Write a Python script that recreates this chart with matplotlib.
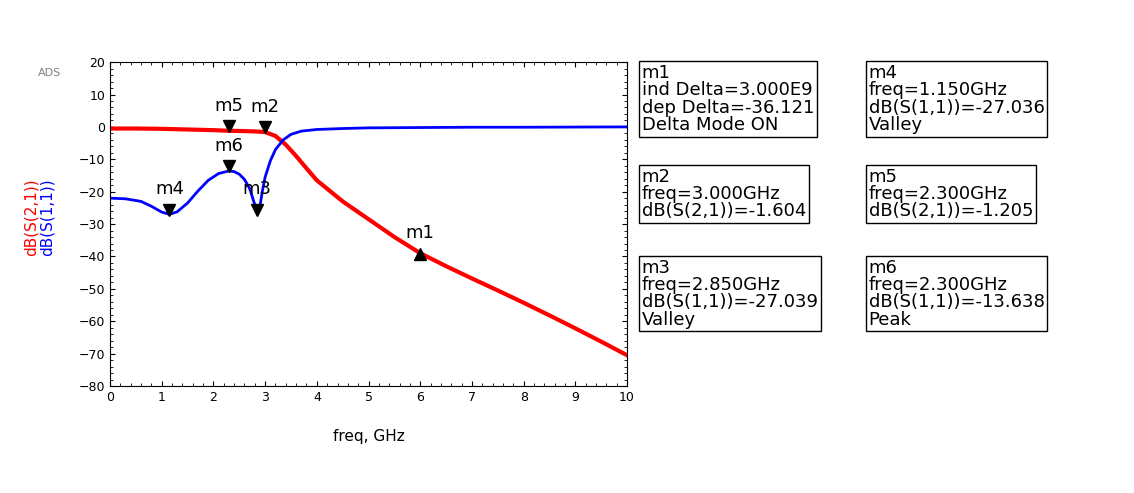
import numpy as np
import matplotlib.pyplot as plt
from matplotlib.ticker import MultipleLocator

# S21 (red)
f21 = [0, 0.5, 1, 1.5, 2, 2.3, 2.6, 2.8, 3.0, 3.2, 3.4, 3.6, 3.8, 4.0, 4.5, 5, 5.5, 6, 6.5, 7, 7.5, 8, 8.5, 9, 9.5, 10]
s21 = [-0.5, -0.5, -0.6, -0.8, -1.0, -1.2, -1.3, -1.4, -1.6, -2.8, -5.5, -9.0, -12.8, -16.5, -23.0, -28.5, -34.0, -39.0, -43.0, -46.8, -50.5, -54.3, -58.2, -62.2, -66.3, -70.5]
# S11 (blue)
f11 = [0, 0.3, 0.6, 0.8, 1.0, 1.15, 1.3, 1.5, 1.7, 1.9, 2.1, 2.3, 2.4, 2.5, 2.6, 2.7, 2.8, 2.85, 2.9, 2.95, 3.0, 3.1, 3.2, 3.35, 3.5, 3.7, 4.0, 4.5, 5, 6, 7, 8, 10]
s11 = [-22.0, -22.2, -23.0, -24.5, -26.3, -27.0, -26.2, -23.5, -19.8, -16.5, -14.4, -13.6, -13.8, -14.6, -16.2, -19.0, -24.0, -27.0, -24.5, -19.5, -15.5, -10.5, -7.0, -4.0, -2.3, -1.3, -0.8, -0.5, -0.3, -0.2, -0.1, -0.1, 0.0]

markers = [  # name, freq, value, up?
    ("m1", 6.0, -39.0, True),
    ("m2", 3.0, -1.604, False),
    ("m3", 2.85, -27.039, False),
    ("m4", 1.15, -27.036, False),
    ("m5", 2.3, -1.205, False),
    ("m6", 2.3, -13.638, False),
]
boxes = [
    (0.566, 0.87, "m1\nind Delta=3.000E9\ndep Delta=-36.121\nDelta Mode ON"),
    (0.566, 0.66, "m2\nfreq=3.000GHz\ndB(S(2,1))=-1.604"),
    (0.566, 0.475, "m3\nfreq=2.850GHz\ndB(S(1,1))=-27.039\nValley"),
    (0.766, 0.87, "m4\nfreq=1.150GHz\ndB(S(1,1))=-27.036\nValley"),
    (0.766, 0.66, "m5\nfreq=2.300GHz\ndB(S(2,1))=-1.205"),
    (0.766, 0.475, "m6\nfreq=2.300GHz\ndB(S(1,1))=-13.638\nPeak"),
]

fig = plt.figure(figsize=(11.34, 4.93), dpi=100)
ax = fig.add_axes([0.097, 0.217, 0.456, 0.657])
ax.plot(f21, s21, color="#ff0000", lw=3)
ax.plot(f11, s11, color="#0000ff", lw=2)
for name, fx, v, up in markers:
    ax.plot(fx, v + (-0.3 if up else 1.5), marker="^" if up else "v", color="black", ms=8, ls="none")
    dy = 3.5 if up else 5.0
    ax.text(fx, v + dy, name, fontsize=13, ha="center", va="bottom")
ax.set_xlim(0, 10)
ax.set_ylim(-80, 20)
ax.xaxis.set_major_locator(MultipleLocator(1))
ax.yaxis.set_major_locator(MultipleLocator(10))
ax.xaxis.set_minor_locator(MultipleLocator(0.2))
ax.yaxis.set_minor_locator(MultipleLocator(2))
ax.tick_params(which="both", direction="in", top=True, right=True, labelsize=9)
ax.set_xlabel("freq, GHz", fontsize=11, labelpad=18)
fig.text(0.021, 0.56, "dB(S(2,1))", color="#ff0000", rotation=90, va="center", fontsize=11)
fig.text(0.035, 0.56, "dB(S(1,1))", color="#0000ff", rotation=90, va="center", fontsize=11)
fig.text(0.033, 0.845, "ADS", color="gray", fontsize=8)
for x, y, t in boxes:
    fig.text(x, y, t, fontsize=13, va="top", ha="left", linespacing=0.95,
             bbox=dict(boxstyle="square,pad=0.15", fc="white", ec="black", lw=1))
fig.savefig("out.png")
